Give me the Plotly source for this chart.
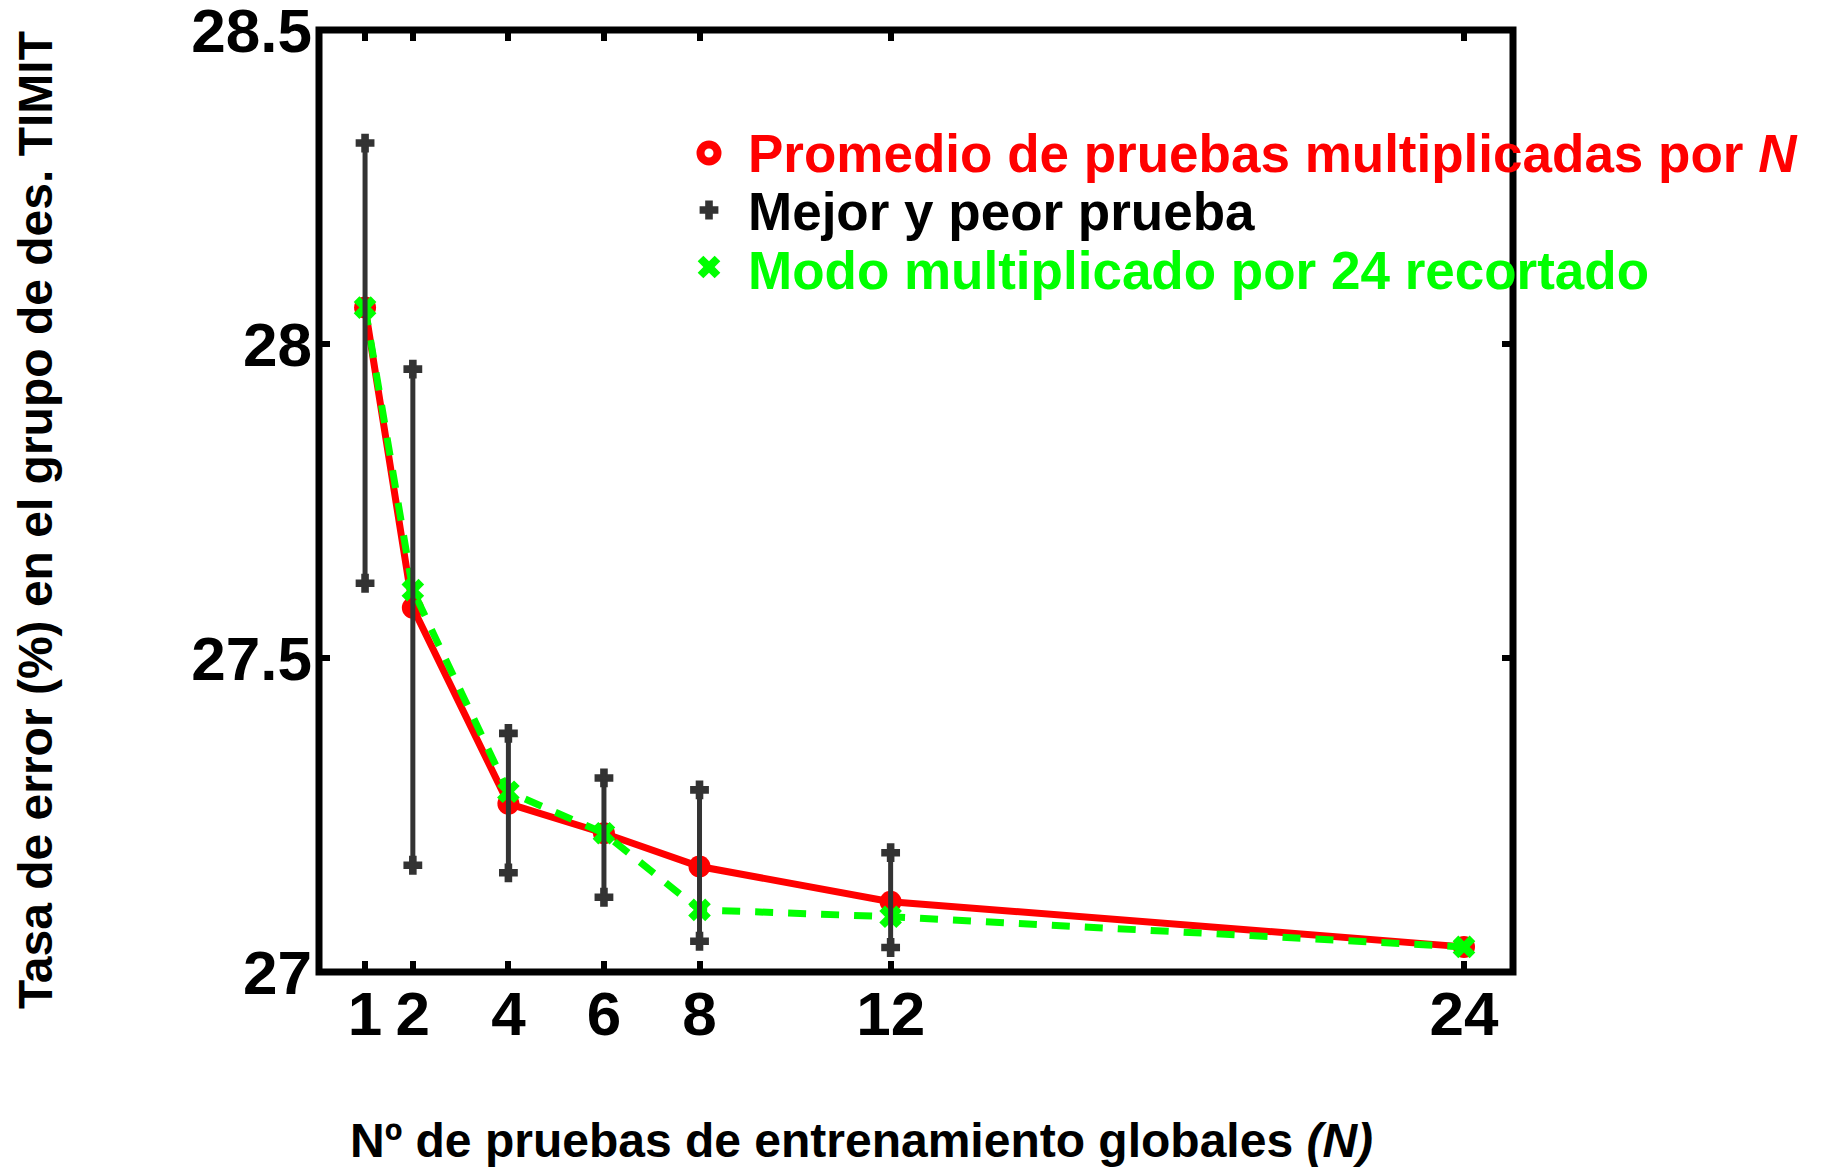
import plotly.graph_objects as go

# ---------------- data ----------------
N_vals = [1, 2, 4, 6, 8, 12, 24]
mean_err = [28.058, 27.580, 27.268, 27.221, 27.168, 27.112, 27.040]
mode24_err = [28.058, 27.608, 27.287, 27.221, 27.099, 27.088, 27.040]
best_err = [27.619, 27.170, 27.158, 27.119, 27.049, 27.039]
worst_err = [28.320, 27.960, 27.380, 27.309, 27.290, 27.190]
N_bars = [1, 2, 4, 6, 8, 12]

x_ticks = [1, 2, 4, 6, 8, 12, 24]
y_ticks = [27, 27.5, 28, 28.5]
y_ticktext = ["27", "27.5", "28", "28.5"]

legend_labels = [
    "Promedio de pruebas multiplicadas por <i>N</i>",
    "Mejor y peor prueba",
    "Modo multiplicado por 24 recortado",
]

# ---------------- style ----------------
W, H = 1829, 1168
L, R, T, B = 319, 316, 30, 196
X_RANGE = [0.036, 25.026]
Y_RANGE = [27, 28.5]
RED = "#ff0000"
GREEN = "#00ff00"
BAR = "#333333"
FONT = "Liberation Sans, Arial, sans-serif"

fig = go.Figure()

# mean line
fig.add_trace(go.Scatter(
    x=N_vals, y=mean_err, mode="lines+markers",
    line=dict(color=RED, width=7),
    marker=dict(symbol="circle", size=22, color=RED),
    showlegend=False, cliponaxis=False,
))
# mode x24 trimmed
fig.add_trace(go.Scatter(
    x=N_vals, y=mode24_err, mode="lines+markers",
    line=dict(color=GREEN, width=7, dash="18px,15px"),
    marker=dict(symbol="x", size=20, color=GREEN, line=dict(width=0)),
    showlegend=False, cliponaxis=False,
))
# best/worst bars
bx, by = [], []
for n, lo, hi in zip(N_bars, best_err, worst_err):
    bx += [n, n, None]
    by += [lo, hi, None]
fig.add_trace(go.Scatter(
    x=bx, y=by, mode="lines+markers",
    line=dict(color=BAR, width=5),
    marker=dict(symbol="cross", size=14, color=BAR, line=dict(width=2, color=BAR)),
    showlegend=False, cliponaxis=False,
))

# ---- custom legend (markers on an overlay paper-like axis) ----
plot_w = W - L - R
plot_h = H - T - B
leg_marker_px = 709
leg_text_px = 746
leg_rows_px = [154, 212, 270]
leg_marker_rows_px = [153, 210, 267]
def px_to_paper_x(px):
    return (px - L) / plot_w
def px_to_paper_y(py):
    return (H - B - py) / plot_h

leg_styles = [
    dict(symbol="circle-open", size=17, color=RED, line=dict(width=8, color=RED)),
    dict(symbol="cross", size=14, color=BAR, line=dict(width=2, color=BAR)),
    dict(symbol="x", size=20, color=GREEN, line=dict(width=0)),
]
leg_colors = [RED, "#000000", GREEN]
for i, (lab, st, col) in enumerate(zip(legend_labels, leg_styles, leg_colors)):
    fig.add_trace(go.Scatter(
        x=[px_to_paper_x(leg_marker_px)], y=[px_to_paper_y(leg_marker_rows_px[i])],
        mode="markers", marker=st, xaxis="x2", yaxis="y2",
        showlegend=False, cliponaxis=False, hoverinfo="skip",
    ))
    fig.add_annotation(
        x=px_to_paper_x(leg_text_px), y=px_to_paper_y(leg_rows_px[i]),
        xref="paper", yref="paper", xanchor="left", yanchor="middle",
        text="<b>" + lab + "</b>", showarrow=False,
        font=dict(family=FONT, size=53, color=col),
    )

# axis titles as annotations
fig.add_annotation(
    x=px_to_paper_x(861), y=px_to_paper_y(1140),
    xref="paper", yref="paper", xanchor="center", yanchor="middle",
    text="<b>Nº de pruebas de entrenamiento globales <i>(N)</i></b>",
    showarrow=False, font=dict(family=FONT, size=48, color="#000000"),
)
fig.add_annotation(
    x=px_to_paper_x(35), y=px_to_paper_y(520),
    xref="paper", yref="paper", xanchor="center", yanchor="middle",
    textangle=-90,
    text="<b>Tasa de error (%) en el grupo de des. TIMIT</b>",
    showarrow=False, font=dict(family=FONT, size=48, color="#000000"),
)

# frame centred on plot-area edges
fig.add_shape(type="rect", xref="paper", yref="paper", x0=0, y0=0, x1=1, y1=1,
              line=dict(color="#000000", width=7), layer="above")

axis_common = dict(
    showline=False, mirror="ticks", automargin=False,
    ticks="inside", ticklen=11, tickwidth=6, tickcolor="#000000",
    showgrid=False, zeroline=False, ticklabeloverflow="allow",
    tickfont=dict(family=FONT, size=62, color="#000000", weight="bold"),
)

fig.update_layout(
    width=W, height=H,
    margin=dict(l=L, r=R, t=T, b=B, pad=0, autoexpand=False),
    plot_bgcolor="white", paper_bgcolor="white",
    showlegend=False,
    xaxis=dict(range=X_RANGE, tickmode="array", tickvals=x_ticks,
               ticktext=[str(v) for v in x_ticks], **axis_common),
    yaxis=dict(range=Y_RANGE, tickmode="array", tickvals=y_ticks,
               ticktext=y_ticktext, ticklabelstandoff=6, **axis_common),
    xaxis2=dict(range=[0, 1], overlaying="x", visible=False, fixedrange=True),
    yaxis2=dict(range=[0, 1], overlaying="y", visible=False, fixedrange=True),
)

fig.write_html("out.html")
